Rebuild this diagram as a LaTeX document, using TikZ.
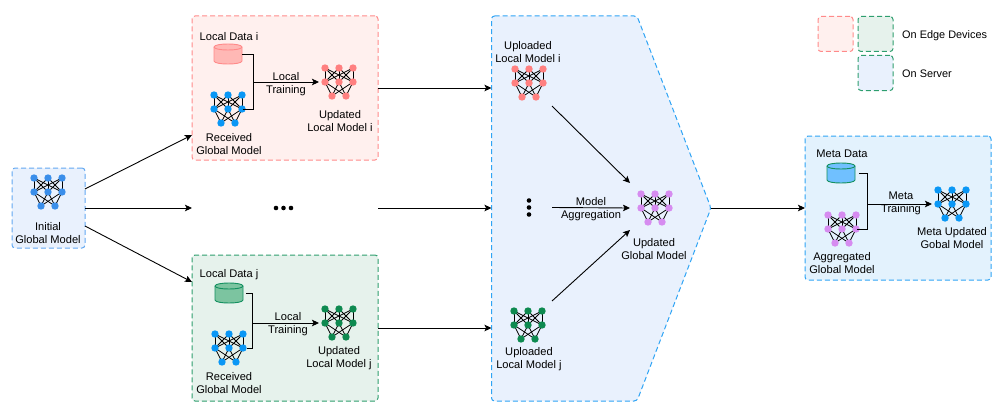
\documentclass[tikz,border=0pt]{standalone}
\usepackage{fontspec}
\setmainfont{Liberation Sans}
\usetikzlibrary{arrows.meta}
\definecolor{pinkfill}{HTML}{FFF0EE}
\definecolor{pinkline}{HTML}{FF8A8A}
\definecolor{greenfill}{HTML}{E6F2EC}
\definecolor{greenline}{HTML}{2E9E6E}
\definecolor{bluefill}{HTML}{E9F1FD}
\definecolor{blueline}{HTML}{2FA4F5}
\definecolor{initline}{HTML}{62A8F2}
\definecolor{metafill}{HTML}{E3F2FD}
\definecolor{netblue}{HTML}{0A97F5}
\definecolor{netinit}{HTML}{3A8EEA}
\definecolor{netred}{HTML}{FF8080}
\definecolor{netgreen}{HTML}{0E8A50}
\definecolor{netpurple}{HTML}{D68CF0}
\definecolor{cylpink}{HTML}{FFB8B5}
\definecolor{cylgreen}{HTML}{7CC4A0}
\definecolor{cylblue}{HTML}{70C0FF}
\definecolor{cylborder}{HTML}{149060}
\tikzset{
  regionbox/.style={draw=#1,line width=1pt,dash pattern=on 5pt off 3pt,rounded corners=3pt,inner sep=0pt,outer sep=0pt},
  txt/.style={align=center,inner sep=0pt,yshift=-1.2pt,font=\fontsize{11.1}{12.9}\selectfont},
  conn/.style={draw=black,line width=0.9pt,-{Stealth[length=7pt,width=6.5pt,inset=1.5pt]}},
  bracketline/.style={draw=black,line width=0.9pt},
  neuron/.style={circle,fill=#1,inner sep=0pt,minimum size=7.4pt,outer sep=0pt},
  blob/.style={circle,fill=black,inner sep=0pt,minimum size=4.6pt,outer sep=0pt},
  slot/.style={inner sep=0pt,outer sep=0pt},
}
% \netw{name}{x}{y}{colour}
\newcommand{\netw}[4]{%
  \node[slot,minimum width=36pt,minimum height=36pt] (#1) at (#2,#3) {};
  \foreach \a/\dx in {1/-14,2/0,3/14}{%
    \coordinate (#1t\a) at (#2+\dx,#3-14);
    \coordinate (#1m\a) at (#2+\dx,#3);
  }
  \foreach \a/\dx in {1/-7,2/7}{\coordinate (#1b\a) at (#2+\dx,#3+14);}
  \foreach \a in {1,2,3}{\foreach \b in {1,2,3}{\draw[line width=0.8pt] (#1t\a) -- (#1m\b);}}
  \foreach \a in {1,2,3}{\foreach \b in {1,2}{\draw[line width=0.8pt] (#1m\a) -- (#1b\b);}}
  \foreach \p in {t1,t2,t3,m1,m2,m3,b1,b2}{\node[neuron=#4] at (#1\p) {};}
}
% \datacyl{name}{x}{y}{line}{fill}
\newcommand{\datacyl}[5]{%
  \node[slot,minimum width=28pt,minimum height=20pt] (#1) at (#2,#3) {};
  \draw[draw=#4,fill=#5,line width=0.9pt] (#2-14,#3-7) -- (#2-14,#3+7)
     .. controls (#2-14,#3+11) and (#2+14,#3+11) .. (#2+14,#3+7)
     -- (#2+14,#3-7)
     .. controls (#2+14,#3-11) and (#2-14,#3-11) .. (#2-14,#3-7) -- cycle;
  \draw[draw=#4,line width=0.9pt] (#2-14,#3-7)
     .. controls (#2-14,#3-3) and (#2+14,#3-3) .. (#2+14,#3-7);
}
\begin{document}
\begin{tikzpicture}[x=1pt,y=-1pt]
\useasboundingbox (0,0) rectangle (1006,412);
% regions
\node[regionbox=initline,fill=bluefill,minimum width=73pt,minimum height=80pt] (init) at (48.5,208) {};
\node[regionbox=pinkline,fill=pinkfill,minimum width=186pt,minimum height=144pt] (pinkbox) at (285,88) {};
\node[regionbox=greenline,fill=greenfill,minimum width=186pt,minimum height=146pt] (greenbox) at (285,328) {};
\node[slot,minimum width=186pt,minimum height=36pt] (midslot) at (285,208) {};
\node[slot,minimum width=219.5pt,minimum height=385pt] (server) at (601.25,208) {};
\draw[draw=blueline,line width=1pt,dash pattern=on 5pt off 3pt,fill=bluefill,rounded corners=3pt]
  (491.5,16) -- (637,16) -- (711,208) -- (637,401) -- (491.5,401) -- cycle;
\node[regionbox=blueline,fill=metafill,minimum width=186pt,minimum height=144pt] (metabox) at (898,208) {};
% legend
\node[regionbox=pinkline,fill=pinkfill,minimum size=35pt] (legpink) at (835.5,34) {};
\node[regionbox=greenline,fill=greenfill,minimum size=35pt] (leggreen) at (875.5,34) {};
\node[regionbox=greenline,fill=bluefill,minimum size=35pt] (legblue) at (875.5,73) {};
\node[txt,anchor=west,font=\fontsize{10.9}{12.6}\selectfont] (legedge) at (902,34) {On Edge Devices};
\node[txt,anchor=west,font=\fontsize{10.9}{12.6}\selectfont] (legserver) at (902,73) {On Server};
% networks
\netw{ninit}{48}{192}{netinit}
\netw{nrecvi}{228}{109}{netblue}
\netw{nupdi}{339}{82}{netred}
\netw{nrecvj}{229}{348}{netblue}
\netw{nupdj}{339}{323}{netgreen}
\netw{nuploadi}{529}{83}{netred}
\netw{nuploadj}{528}{325}{netgreen}
\netw{nglobal}{655}{208}{netpurple}
\netw{naggr}{842}{229}{netpurple}
\netw{nmeta}{952}{204}{netblue}
% data cylinders
\datacyl{cyli}{228}{54}{pinkline}{cylpink}
\datacyl{cylj}{229}{293}{cylborder}{cylgreen}
\datacyl{cylm}{841}{173}{cylborder}{cylblue}
% texts
\node[txt] (tinit) at (48,232) {Initial\\Global Model};
\node[txt] (tdatai) at (229,35) {Local Data i};
\node[txt] (trecvi) at (229,142.5) {Received\\Global Model};
\node[txt] (tupdi) at (340,119.5) {Updated\\Local Model i};
\node[txt] (tlocali) at (286,82.5) {Local\\Training};
\node[txt] (tdataj) at (229,273) {Local Data j};
\node[txt] (trecvj) at (229,381.5) {Received\\Global Model};
\node[txt] (tupdj) at (339,357) {Updated\\Local Model j};
\node[txt] (tlocalj) at (288,322.5) {Local\\Training};
\node[txt] (tuploadi) at (528,50.5) {Uploaded\\Local Model i};
\node[txt] (tuploadj) at (529,357.5) {Uploaded\\Local Model j};
\node[txt] (tagg) at (591,207.5) {Model\\Aggregation};
\node[txt] (tupdg) at (654,248) {Updated\\Global Model};
\node[txt] (tmetadata) at (842,153) {Meta Data};
\node[txt] (taggr) at (842,262) {Aggregated\\Global Model};
\node[txt] (tmetatrain) at (901,202.5) {Meta\\Training};
\node[txt] (tmetaupd) at (952,237) {Meta Updated\\Gobal Model};
% dots
\node[blob] (h1) at (276,208) {};
\node[blob] (h2) at (283.5,208) {};
\node[blob] (h3) at (291,208) {};
\node[blob] (v1) at (529,200.5) {};
\node[blob] (v2) at (529,207.5) {};
\node[blob] (v3) at (529,214.5) {};
% main connectors
\draw[conn] ([yshift=19pt]init.east) -- ([yshift=25pt]pinkbox.south west);
\draw[conn] (init.east) -- (midslot.west);
\draw[conn] ([yshift=-18pt]init.east) -- ([yshift=-27pt]greenbox.north west);
\draw[conn] (midslot.east) -- (midslot.east -| server.west);
\draw[conn] (pinkbox.east) -- (pinkbox.east -| server.west);
\draw[conn] (greenbox.east) -- (greenbox.east -| server.west);
\draw[conn] ([shift={(23pt,-23pt)}]nuploadi.center) -- ([shift={(-25pt,25pt)}]nglobal.center);
\draw[conn] ([xshift=23pt]v2.center) -- ([xshift=-25pt]nglobal.center);
\draw[conn] ([shift={(24pt,24pt)}]nuploadj.center) -- ([shift={(-25pt,-22pt)}]nglobal.center);
\draw[conn] (server.east) -- (metabox.west);
% local training i
\draw[bracketline] (cyli.east) -- ++(11,0) coordinate (bi) -- (bi |- nrecvi.center) -- ([xshift=15pt]nrecvi.center);
\draw[conn] (bi |- nupdi.center) -- ([xshift=-20pt]nupdi.center);
% local training j
\draw[bracketline] (cylj.east) ++(3,0) -- ++(6,0) coordinate (bj) -- (bj |- nrecvj.center) -- ([xshift=18pt]nrecvj.center);
\draw[conn] (bj |- nupdj.center) -- ([xshift=-20pt]nupdj.center);
% meta training
\draw[bracketline] (cylm.east) ++(4,0) -- ++(8,0) coordinate (bm) -- (bm |- naggr.center) -- ([xshift=15pt]naggr.center);
\draw[conn] (bm |- nmeta.center) -- ([xshift=-20pt]nmeta.center);
\end{tikzpicture}
\end{document}
